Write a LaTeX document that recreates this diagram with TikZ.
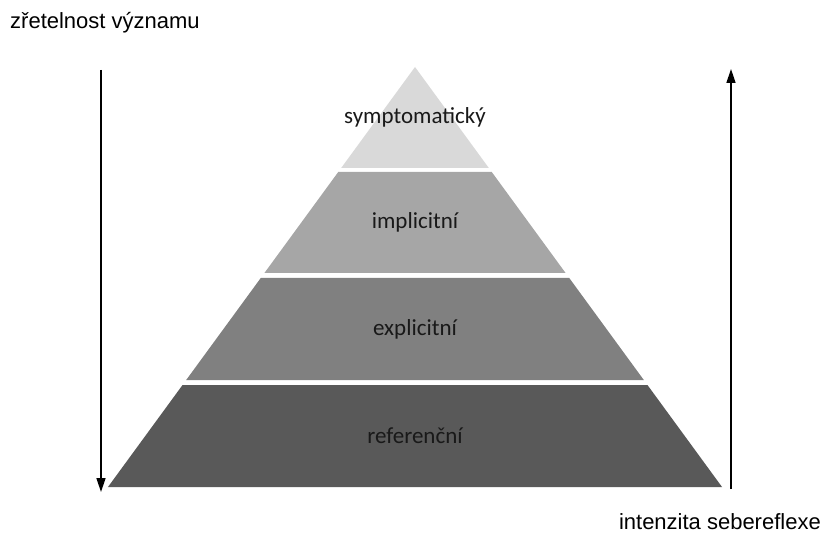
\documentclass[tikz,border=0pt]{standalone}
\usepackage{fontspec}
\setmainfont{Liberation Sans}
\newfontfamily\layerfont{Carlito}
\usetikzlibrary{arrows.meta}

\tikzset{
    layer/.style={font=\layerfont\fontsize{23}{27}\selectfont, text=black!90},
    axislabel/.style={font=\fontsize{22}{26}\selectfont, inner sep=0pt},
    axis/.style={line width=1.5pt, -{Triangle[width=9pt,length=14pt]}},
}

\begin{document}
\begin{tikzpicture}[x=1pt, y=-1pt]
    \useasboundingbox (0, 0) rectangle (826, 534);

    % pyramid layers: top y / bottom y / fill / name / label
    \foreach \ytop/\ybot/\shade/\name/\txt in {
        67/168/black!15/sym/symptomatick\'y,
        172/273/black!35/imp/implicitn\'\i,
        278/380/black!50/exp/explicitn\'\i,
        385/487/black!65/ref/referen\v{c}n\'\i} {
        \fill[\shade] ({415-0.731*(\ytop-67)}, \ytop) -- ({415+0.731*(\ytop-67)}, \ytop)
            -- ({415+0.731*(\ybot-67)}, \ybot) -- ({415-0.731*(\ybot-67)}, \ybot) -- cycle;
        \node[layer] (\name) at (415, {(\ytop+\ybot)/2}) {\txt};
    }

    \node[axislabel, anchor=base west] (clarity) at (10, 29) {zřetelnost významu};
    \node[axislabel, anchor=base east] (reflex) at (821, 529) {intenzita sebereflexe};

    \coordinate (Ltop) at (101, 70);
    \coordinate (Lbot) at (101, 492);
    \coordinate (Rbot) at (731, 489);
    \coordinate (Rtop) at (731, 69);

    \draw[axis] (Ltop) -- (Lbot);
    \draw[axis] (Rbot) -- (Rtop);
\end{tikzpicture}
\end{document}
